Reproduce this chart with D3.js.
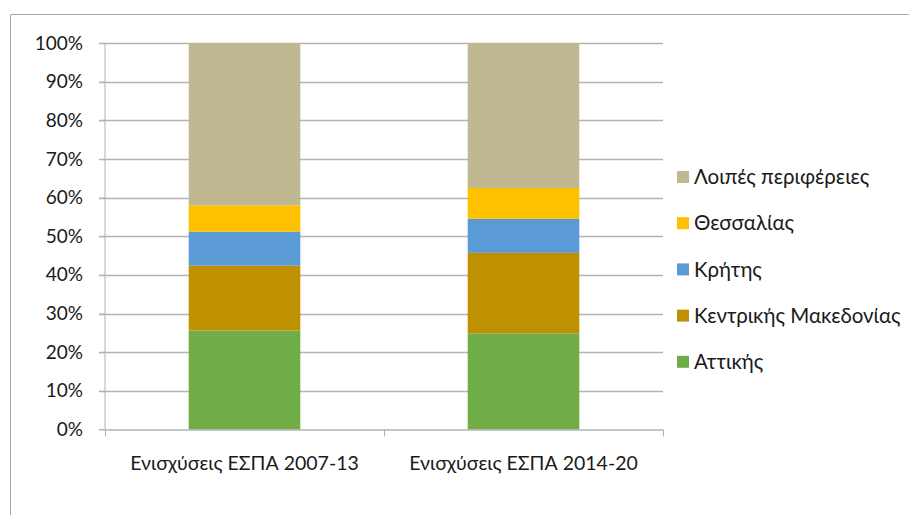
<!DOCTYPE html>
<html>
<head>
<meta charset="utf-8">
<script src="https://cdn.jsdelivr.net/npm/d3@7"></script>
<style>
  body { margin: 0; background: #fff; }
  text { font-family: Lato, "Open Sans", sans-serif; fill: #1a1a1a; }
</style>
</head>
<body>
<script>
// Δεδομένα (ποσοστά %)
const categories = ["Ενισχύσεις ΕΣΠΑ 2007-13", "Ενισχύσεις ΕΣΠΑ 2014-20"];
const seriesNames = ["Αττικής", "Κεντρικής Μακεδονίας", "Κρήτης", "Θεσσαλίας", "Λοιπές περιφέρειες"];
const attiki = [25.6, 24.9];
const kentrikiMakedonia = [16.8, 20.8];
const kriti = [8.8, 8.8];
const thessalia = [6.8, 8.0];
const loipes = [42.0, 37.5];
const yTicks = [0, 10, 20, 30, 40, 50, 60, 70, 80, 90, 100];
const colors = ["#70AD47", "#BF9000", "#5B9BD5", "#FFC000", "#C0B890"];

const W = 909, H = 515;
const margin = { top: 43, right: 246, bottom: 85.5, left: 105 };
const width = W - margin.left - margin.right;
const height = H - margin.top - margin.bottom;

const svg = d3.select("body").append("svg").attr("width", W).attr("height", H);

// borde del gráfico
svg.append("path")
  .attr("d", `M10.5,${H} V14.5 H${W}`)
  .attr("fill", "none")
  .attr("stroke", "#a6a6a6");

const g = svg.append("g").attr("transform", `translate(${margin.left},${margin.top})`);

const rows = categories.map((c, i) => ({
  cat: c,
  [seriesNames[0]]: attiki[i],
  [seriesNames[1]]: kentrikiMakedonia[i],
  [seriesNames[2]]: kriti[i],
  [seriesNames[3]]: thessalia[i],
  [seriesNames[4]]: loipes[i],
}));

const stack = d3.stack().keys(seriesNames)(rows);

const x = d3.scaleBand().domain(categories).range([0, width]).paddingInner(0).paddingOuter(0);
const y = d3.scaleLinear().domain([0, 100]).range([height, 0]);
const color = d3.scaleOrdinal().domain(seriesNames).range(colors);

// líneas de la cuadrícula
g.append("g")
  .selectAll("line")
  .data(yTicks.filter((d) => d > 0))
  .enter()
  .append("line")
  .attr("x1", -6)
  .attr("x2", width)
  .attr("y1", (d) => Math.round(y(d)) + 0.5)
  .attr("y2", (d) => Math.round(y(d)) + 0.5)
  .attr("stroke", "#b3b3b3")
  .attr("stroke-width", 1.3);

// eje y
const yAxis = g.append("g")
  .call(d3.axisLeft(y).tickValues(yTicks).tickFormat((d) => d + "%").tickSize(6).tickPadding(16));
yAxis.select(".domain").attr("stroke", "#b3b3b3").attr("d", `M-6,${height}H0V0`);
yAxis.selectAll(".tick line").attr("stroke", "#b3b3b3");
yAxis.selectAll("text").attr("font-size", 19).style("fill", "#1a1a1a");

// barras
const barW = x.bandwidth() * 0.4;
g.append("g")
  .selectAll("g")
  .data(stack)
  .enter()
  .append("g")
  .attr("fill", (d) => color(d.key))
  .selectAll("rect")
  .data((d) => d)
  .enter()
  .append("rect")
  .attr("x", (d) => x(d.data.cat) + (x.bandwidth() - barW) / 2)
  .attr("width", barW)
  .attr("y", (d) => y(d[1]))
  .attr("height", (d) => y(d[0]) - y(d[1]));

// eje x
const xAxis = g.append("g")
  .attr("transform", `translate(0,${height})`)
  .call(d3.axisBottom(x).tickSize(0).tickPadding(27));
xAxis.select(".domain").remove();
xAxis.selectAll("text").attr("font-size", 19.5).style("fill", "#1a1a1a");
g.append("line")
  .attr("x1", 0).attr("x2", width)
  .attr("y1", height + 0.5).attr("y2", height + 0.5)
  .attr("stroke", "#b3b3b3").attr("stroke-width", 1.3);
g.append("g")
  .selectAll("line")
  .data([0, width / 2, width])
  .enter()
  .append("line")
  .attr("x1", (d) => Math.round(d) + 0.5)
  .attr("x2", (d) => Math.round(d) + 0.5)
  .attr("y1", height)
  .attr("y2", height + 7)
  .attr("stroke", "#b3b3b3");

// leyenda
const legend = svg.append("g").attr("transform", "translate(677,0)");
const legendItems = legend
  .selectAll("g")
  .data(seriesNames.slice().reverse())
  .enter()
  .append("g")
  .attr("transform", (_, i) => `translate(0,${177 + i * 46.2})`);
legendItems.append("rect")
  .attr("x", 0).attr("y", -6).attr("width", 12).attr("height", 12)
  .attr("fill", (d) => color(d));
legendItems.append("text")
  .attr("x", 17).attr("dy", "0.35em")
  .attr("font-size", 20.5)
  .text((d) => d);
</script>
</body>
</html>
